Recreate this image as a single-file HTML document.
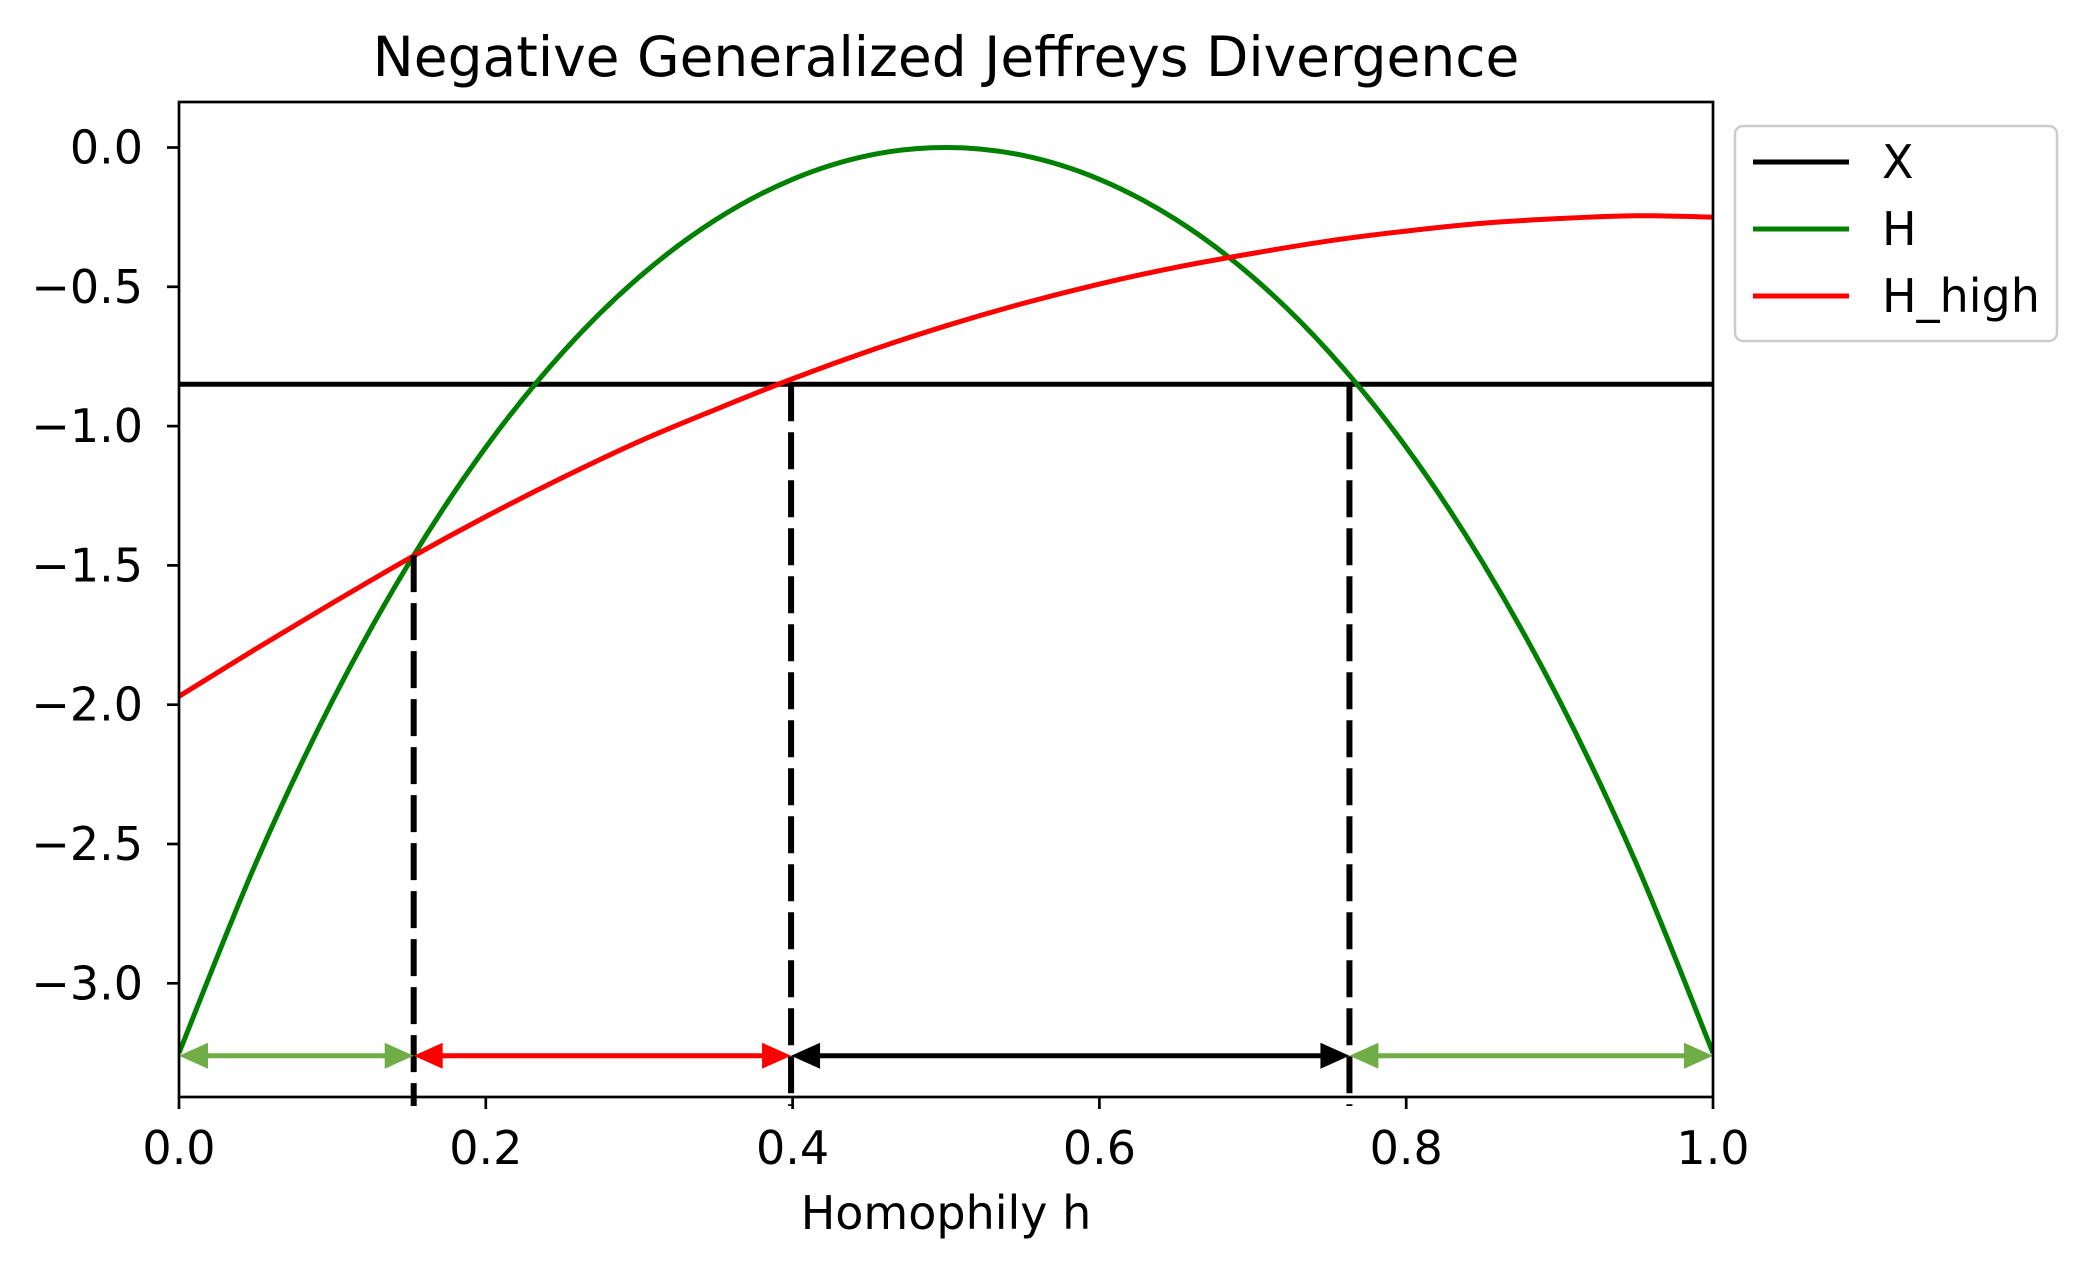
<!DOCTYPE html>
<html><head><meta charset="utf-8"><style>
html,body{margin:0;padding:0;background:#fff}
svg{display:block}
text{font-family:"DejaVu Sans","Liberation Sans",sans-serif;fill:#000}
</style></head><body>
<svg id="chart" width="2094" height="1269" viewBox="0 0 2094 1269" xmlns="http://www.w3.org/2000/svg">
<rect width="2094" height="1269" fill="#fff"/>
<text x="946" y="76" font-size="55" text-anchor="middle">Negative Generalized Jeffreys Divergence</text>
<g id="plot"></g>
<text x="946" y="1229" font-size="46" text-anchor="middle">Homophily h</text>
<g id="legend">
<rect x="1735" y="126" width="322" height="215" rx="8" fill="#fff" fill-opacity="0.8" stroke="#ccc" stroke-width="2.5"/>
<g><line x1="1753" y1="162" x2="1849" y2="162" stroke="#000" stroke-width="5"/><text x="1882" y="178" font-size="46">X</text></g>
<g><line x1="1753" y1="229" x2="1849" y2="229" stroke="#008000" stroke-width="5"/><text x="1882" y="245" font-size="46">H</text></g>
<g><line x1="1753" y1="296" x2="1849" y2="296" stroke="#ff0000" stroke-width="5"/><text x="1882" y="312" font-size="46">H_high</text></g>
</g>
</svg>
<script>
const hValues = [0,0.05,0.1,0.15,0.2,0.25,0.3,0.35,0.4,0.45,0.5,0.55,0.6,0.65,0.7,0.75,0.8,0.85,0.9,0.95,1.0];
const seriesH = [-3.25,-2.57,-1.986,-1.491,-1.076,-0.736,-0.465,-0.259,-0.114,-0.028,0,-0.028,-0.114,-0.259,-0.465,-0.736,-1.076,-1.491,-1.986,-2.57,-3.25];
const seriesHHigh = [-1.97,-1.80,-1.635,-1.475,-1.325,-1.185,-1.055,-0.94,-0.83,-0.73,-0.64,-0.56,-0.49,-0.43,-0.38,-0.335,-0.30,-0.272,-0.255,-0.245,-0.25];
const seriesX = -0.85;
const boundaries = [0, 0.153, 0.399, 0.763, 1.0];
const boundaryTops = [-1.463, -0.85, -0.85];
const arrowLevel = -3.26;
const arrowColors = ["#70ad47","#ff0000","#000000","#70ad47"];
const xTicks = [0,0.2,0.4,0.6,0.8,1.0];
const xTickLabels = ["0.0","0.2","0.4","0.6","0.8","1.0"];
const yTicks = [0,-0.5,-1,-1.5,-2,-2.5,-3];
const yTickLabels = ["0.0","\u22120.5","\u22121.0","\u22121.5","\u22122.0","\u22122.5","\u22123.0"];

const L=179,R=1713,T=102,B=1097;
const xs=v=>L+(v-0)/(1-0)*(R-L);
const Y0=147.5, YU=278.6;
const ys=v=>Y0-v*YU;
const NS="http://www.w3.org/2000/svg";
const plot=document.getElementById('plot');
function mk(tag,attrs,parent){const e=document.createElementNS(NS,tag);for(const k in attrs)e.setAttribute(k,attrs[k]);(parent||plot).appendChild(e);return e;}

const clip=mk('clipPath',{id:'clip'});mk('rect',{x:L,y:T,width:R-L,height:B-T},clip);

function smoothPath(xv,yv){
  const pts=xv.map((x,i)=>[xs(x),ys(yv[i])]);
  let d='M'+pts[0][0]+','+pts[0][1];
  for(let i=0;i<pts.length-1;i++){
    const p0=pts[Math.max(0,i-1)],p1=pts[i],p2=pts[i+1],p3=pts[Math.min(pts.length-1,i+2)];
    const c1=[p1[0]+(p2[0]-p0[0])/6,p1[1]+(p2[1]-p0[1])/6];
    const c2=[p2[0]-(p3[0]-p1[0])/6,p2[1]-(p3[1]-p1[1])/6];
    d+=' C'+c1+' '+c2+' '+p2;
  }
  return d;
}

const xl=mk('line',{x1:xs(0),x2:xs(1),y1:ys(seriesX),y2:ys(seriesX),stroke:'#000','stroke-width':5,'clip-path':'url(#clip)'});


const gl=mk('path',{d:smoothPath(hValues,seriesH),fill:'none',stroke:'#008000','stroke-width':5,'clip-path':'url(#clip)'});


const rl=mk('path',{d:smoothPath(hValues,seriesHHigh),fill:'none',stroke:'#ff0000','stroke-width':5,'clip-path':'url(#clip)'});



for(let i=1;i<boundaries.length-1;i++){
  const dl=mk('line',{x1:xs(boundaries[i]),x2:xs(boundaries[i]),y1:ys(boundaryTops[i-1]),y2:1106,stroke:'#000','stroke-width':6,'stroke-dasharray':'37 11'});
  
  
}

for(let i=0;i<arrowColors.length;i++){
  const g=mk('g',{});
  
  
  const x1=xs(boundaries[i]),x2=xs(boundaries[i+1]),y=ys(arrowLevel),c=arrowColors[i],hl=29,hw=13;
  mk('line',{x1:x1+hl-2,x2:x2-hl+2,y1:y,y2:y,stroke:c,'stroke-width':5},g);
  mk('polygon',{points:`${x1},${y} ${x1+hl},${y-hw} ${x1+hl},${y+hw}`,fill:c},g);
  mk('polygon',{points:`${x2},${y} ${x2-hl},${y-hw} ${x2-hl},${y+hw}`,fill:c},g);
}

const ax=mk('rect',{x:L,y:T,width:R-L,height:B-T,fill:'none',stroke:'#000','stroke-width':2.7});



xTicks.forEach((v,i)=>{
  const x=xs(v);
  const t=mk('line',{x1:x,x2:x,y1:B,y2:B+12,stroke:'#000','stroke-width':2.7});
  
  
  const tx=mk('text',{x:x,y:1164,'font-size':46,'text-anchor':'middle'});
  tx.textContent=xTickLabels[i];
  
  
});
yTicks.forEach((v,i)=>{
  const y=ys(v);
  const t=mk('line',{x1:L-12,x2:L,y1:y,y2:y,stroke:'#000','stroke-width':2.7});
  
  
  const tx=mk('text',{x:L-36,y:y+16,'font-size':46,'text-anchor':'end'});
  tx.textContent=yTickLabels[i];
  
  
});
</script>
</body></html>
